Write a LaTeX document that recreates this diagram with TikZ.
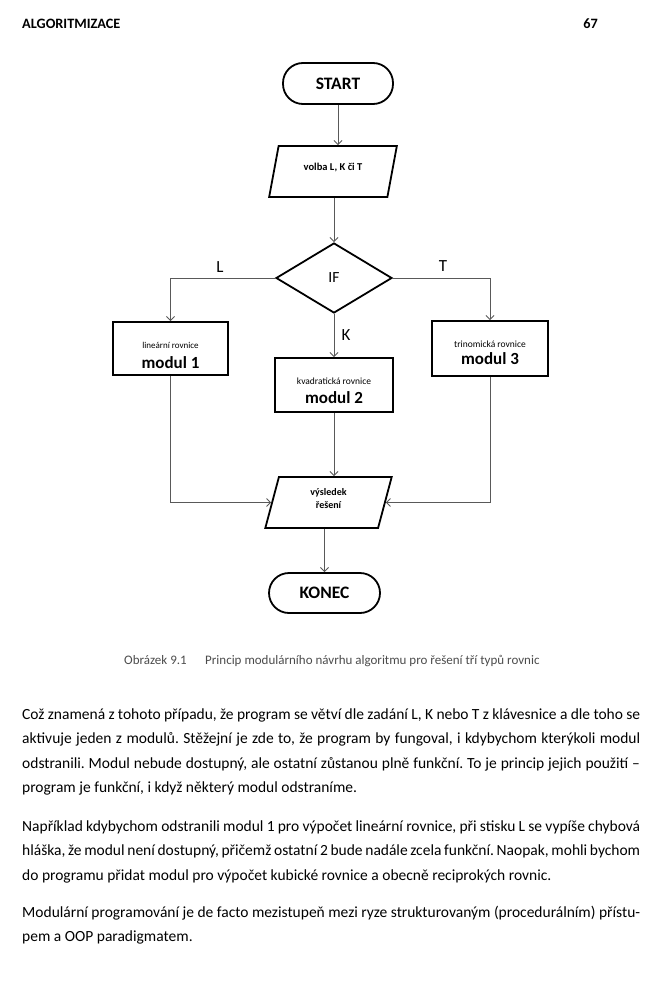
\documentclass[tikz,border=0pt]{standalone}
\usepackage{fontspec}
\setmainfont{Carlito}
\usetikzlibrary{shapes.geometric,arrows.meta}
\newcommand{\fsz}[2]{\fontsize{#1}{#2}\selectfont}
\frenchspacing
\begin{document}
\begin{tikzpicture}[x=1pt,y=-1pt,
  shp/.style={draw=black, line width=1.8pt, inner sep=0pt, fill=white},
  term/.style={shp, rectangle, rounded corners=20pt, font=\bfseries\fsz{17.5}{20}},
  io/.style={shp, trapezium, trapezium stretches=true, align=center},
  proc/.style={shp, rectangle, align=center, text depth=0pt},
  conn/.style={draw=black!65, line width=0.9pt},
  arr/.style={conn, -{Straight Barb[length=4pt,width=8pt]}},
  lbl/.style={font=\fsz{17}{20}, inner sep=0pt},
  bodyline/.style={anchor=base west, inner sep=0pt, font=\fsz{15.5}{18}\frenchspacing},
  captxt/.style={anchor=base west, inner sep=0pt, text=black!70, font=\fsz{13}{15}}
]
\useasboundingbox[fill=white] (0,0) rectangle (661,1000);

% header
\node[anchor=base west, inner sep=0pt, font=\bfseries\fsz{14.3}{17}] (hdr) at (22,29) {ALGORITMIZACE};
\node[anchor=base east, inner sep=0pt, font=\bfseries\fsz{14.3}{17}] (pg) at (598,29) {67};

% flowchart
\node[term, minimum width=110pt, minimum height=41pt] (start) at (338,83.5) {START};
\node[io, trapezium left angle=63, trapezium right angle=117, minimum width=128pt, minimum height=51pt, font=\bfseries\fsz{10.5}{12}, text height=4pt, text depth=6pt] (vol) at (333,171.5) {volba L, K či T};
\node[shp, diamond, aspect=1.66, minimum width=116pt, minimum height=70pt, font=\fsz{15.5}{18}] (dec) at (334,278) {IF};
\node[proc, minimum width=115pt, minimum height=53pt, text height=39pt] (m1) at (170.5,348.5) {{\fsz{9}{11}lineární rovnice}\\[8pt]{\bfseries\fsz{17}{17}modul 1}};
\node[proc, minimum width=118pt, minimum height=54pt, text height=36pt] (m2) at (334,385) {{\fsz{9.5}{11}kvadratická rovnice}\\[7pt]{\bfseries\fsz{17}{17}modul 2}};
\node[proc, minimum width=116pt, minimum height=55pt, text height=31pt] (m3) at (490,348.5) {{\fsz{9.5}{11}trinomická rovnice}\\[5pt]{\bfseries\fsz{17}{17}modul 3}};
\node[io, trapezium left angle=65.7, trapezium right angle=114.3, minimum width=127pt, minimum height=51pt, font=\bfseries\fsz{10}{13}, text height=11pt, text depth=0pt] (res) at (328.5,502.5) {výsledek\\řešení};
\node[term, minimum width=111pt, minimum height=40pt] (end) at (324.5,593) {KONEC};

\node[lbl] (lL) at (220,267) {L};
\node[lbl] (lT) at (443,266) {T};
\node[lbl] (lK) at (346,335) {K};

\draw[arr] (start.south) -- (start.south |- vol.north);
\draw[arr] (dec.north |- vol.south) -- (dec.north);
\draw[arr] (dec.west) -| (m1.north);
\draw[arr] (dec.east) -| (m3.north);
\draw[arr] (dec.south) -- (m2.north);
\draw[arr] (m1.south) |- (res.west);
\draw[arr] (m3.south) |- (res.east);
\draw[arr] (m2.south) -- (m2.south |- res.north);
\draw[arr] (end.north |- res.south) -- (end.north);

% caption
\node[captxt] (capn) at (124,664) {Obrázek 9.1};
\node[captxt] (capt) at (205,664) {Princip modulárního návrhu algoritmu pro řešení tří typů rovnic};

% body text
\node[bodyline] (p1a) at (22,719) {\makebox[618pt][s]{Což znamená z tohoto případu, že program se větví dle zadání L, K nebo T z klávesnice a dle toho se}};
\node[bodyline] (p1b) at (22,743.5) {\makebox[618pt][s]{aktivuje jeden z modulů. Stěžejní je zde to, že program by fungoval, i kdybychom kterýkoli modul}};
\node[bodyline] (p1c) at (22,768) {\makebox[618pt][s]{odstranili. Modul nebude dostupný, ale ostatní zůstanou plně funkční. To je princip jejich použití –}};
\node[bodyline] (p1d) at (22,792) {program je funkční, i když některý modul odstraníme.};
\node[bodyline] (p2a) at (22,831) {\makebox[618pt][s]{Například kdybychom odstranili modul 1 pro výpočet lineární rovnice, při stisku L se vypíše chybová}};
\node[bodyline] (p2b) at (22,855.5) {\makebox[618pt][s]{hláška, že modul není dostupný, přičemž ostatní 2 bude nadále zcela funkční. Naopak, mohli bychom}};
\node[bodyline] (p2c) at (22,880) {do programu přidat modul pro výpočet kubické rovnice a obecně reciprokých rovnic.};
\node[bodyline] (p3a) at (22,917) {\makebox[618pt][s]{Modulární programování je de facto mezistupeň mezi ryze strukturovaným (procedurálním) přístu-}};
\node[bodyline] (p3b) at (22,941) {pem a OOP paradigmatem.};
\end{tikzpicture}
\end{document}
